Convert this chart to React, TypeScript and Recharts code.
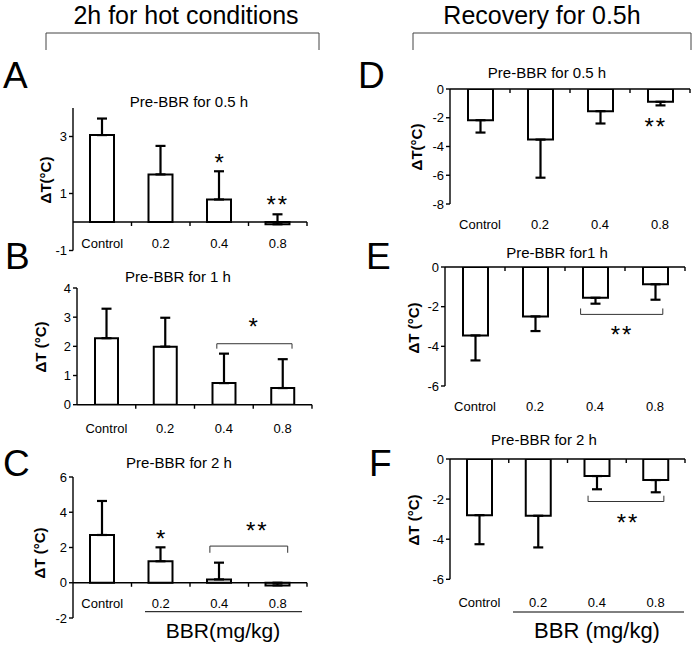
import React from "react";
import { BarChart, Bar, XAxis, YAxis, ErrorBar, ReferenceLine, ReferenceDot } from "recharts";

const FONT = "'Liberation Sans', Arial, sans-serif";

const categories = ["Control", "0.2", "0.4", "0.8"];
const positions = [0.5, 1.5, 2.5, 3.5];

// 2h for hot conditions
const hotHalfMean = [3.05, 1.67, 0.79, -0.08];
const hotHalfErr = [0.58, 1.0, 0.99, 0.35];
const hotOneMean = [2.28, 1.99, 0.74, 0.57];
const hotOneErr = [1.01, 0.99, 1.01, 0.99];
const hotTwoMean = [2.71, 1.22, 0.19, -0.15];
const hotTwoErr = [1.93, 0.79, 0.95, 0.15];

// recovery for 0.5h
const recHalfMean = [-2.17, -3.52, -1.54, -0.89];
const recHalfErr = [0.86, 2.65, 0.86, 0.25];
const recOneMean = [-3.45, -2.49, -1.55, -0.87];
const recOneErr = [1.26, 0.74, 0.3, 0.78];
const recTwoMean = [-2.8, -2.83, -0.85, -1.05];
const recTwoErr = [1.45, 1.58, 0.66, 0.61];

type Star = { x: number; y: number; t: string };
type Bracket = { x1: number; x2: number; y: number; leg: number };
type PanelCfg = {
  mean: number[];
  err: number[];
  up: boolean;
  domain: [number, number];
  ticks: number[];
  plot: [number, number, number, number]; // left, right, top, bottom
  barSize: number;
  labelDy: number;
  tickLen: number;
  stars: Star[];
  bracket?: Bracket;
};

const panels: PanelCfg[] = [
  {
    mean: hotHalfMean, err: hotHalfErr, up: true,
    domain: [-1, 4], ticks: [-1, 1, 3],
    plot: [73, 307, 107.7, 250.2], barSize: 24, labelDy: -20, tickLen: 0.14,
    stars: [{ x: 2.5, y: 2.27, t: "*" }, { x: 3.5, y: 0.8, t: "**" }],
  },
  {
    mean: hotOneMean, err: hotOneErr, up: true,
    domain: [0, 4], ticks: [0, 1, 2, 3, 4],
    plot: [77, 312, 288.3, 405], barSize: 23, labelDy: 11, tickLen: 0.14,
    stars: [{ x: 3.0, y: 2.84, t: "*" }],
    bracket: { x1: 2.38, x2: 3.66, y: 2.09, leg: 1.92 },
  },
  {
    mean: hotTwoMean, err: hotTwoErr, up: true,
    domain: [-2, 6], ticks: [-2, 0, 2, 4, 6],
    plot: [73, 307, 477.3, 618.3], barSize: 24, labelDy: -27, tickLen: 0.23,
    stars: [{ x: 1.5, y: 2.82, t: "*" }, { x: 3.15, y: 3.22, t: "**" }],
    bracket: { x1: 2.34, x2: 3.67, y: 2.08, leg: 1.7 },
  },
  {
    mean: recHalfMean, err: recHalfErr, up: false,
    domain: [-8, 0], ticks: [-8, -6, -4, -2, 0],
    plot: [450, 690, 89, 204], barSize: 25, labelDy: 8, tickLen: 0.28,
    stars: [{ x: 3.43, y: -2.24, t: "**" }],
  },
  {
    mean: recOneMean, err: recOneErr, up: false,
    domain: [-6, 0], ticks: [-6, -4, -2, 0],
    plot: [445, 685, 266.7, 385.7], barSize: 25, labelDy: 8, tickLen: 0.2,
    stars: [{ x: 2.95, y: -3.15, t: "**" }],
    bracket: { x1: 2.26, x2: 3.63, y: -2.39, leg: -2.09 },
  },
  {
    mean: recTwoMean, err: recTwoErr, up: false,
    domain: [-6, 0], ticks: [-6, -4, -2, 0],
    plot: [450, 685, 459, 579.3], barSize: 25, labelDy: 10, tickLen: 0.2,
    stars: [{ x: 3.03, y: -2.93, t: "**" }],
    bracket: { x1: 2.35, x2: 3.64, y: -2.12, leg: -1.83 },
  },
];

const starShape = (t: string) => (props: any) => (
  <text
    x={props.cx}
    y={props.cy + 13.5}
    textAnchor="middle"
    fontSize={24}
    fontFamily={FONT}
    letterSpacing={t.length > 1 ? 2 : 0}
    fill="#000"
  >
    {t}
  </text>
);

function Panel({ p }: { p: PanelCfg }) {
  const data = p.mean.map((v, i) => ({
    pos: positions[i],
    v,
    e: p.up ? [0, p.err[i]] : [p.err[i], 0],
  }));
  const W = 40, T = 10, R = 10, H = 30;
  const [x0, x1, y0, y1] = p.plot;
  const left = x0 - W;
  const top = y0 - T;
  const width = x1 - x0 + W + R;
  const height = y1 - y0 + T + H;
  const b = p.bracket;
  return (
    <div style={{ position: "absolute", left, top }}>
      <BarChart width={width} height={height} data={data} margin={{ top: T, right: R, left: 0, bottom: 0 }}>
        <XAxis
          dataKey="pos"
          type="number"
          domain={[0, 4]}
          ticks={positions}
          interval={0}
          tickFormatter={(v: number) => categories[positions.indexOf(v)]}
          axisLine={false}
          tickLine={false}
          height={H}
          allowDataOverflow
          tick={{ fontSize: 13, fill: "#000", fontFamily: FONT, dy: p.labelDy }}
        />
        <YAxis
          type="number"
          domain={p.domain}
          ticks={p.ticks}
          interval={0}
          width={W}
          tickSize={4}
          allowDataOverflow
          axisLine={{ stroke: "#000", strokeWidth: 1.4 }}
          tickLine={{ stroke: "#000", strokeWidth: 1.4 }}
          tick={{ fontSize: 13, fill: "#000", fontFamily: FONT }}
        />
        <ReferenceLine y={0} stroke="#000" strokeWidth={1.4} />
        {[1, 2, 3, 4].map((x) => (
          <ReferenceLine
            key={x}
            segment={[{ x, y: 0 }, { x, y: -p.tickLen }]}
            stroke="#000"
            strokeWidth={1.4}
            ifOverflow="visible"
          />
        ))}
        <Bar dataKey="v" fill="#fff" stroke="#000" strokeWidth={2} barSize={p.barSize} isAnimationActive={false}>
          <ErrorBar dataKey="e" width={5} strokeWidth={2.2} stroke="#000" direction="y" />
        </Bar>
        {b && (
          <ReferenceLine segment={[{ x: b.x1, y: b.y }, { x: b.x2, y: b.y }]} stroke="#333" strokeWidth={1} />
        )}
        {b && (
          <ReferenceLine segment={[{ x: b.x1, y: b.y }, { x: b.x1, y: b.leg }]} stroke="#333" strokeWidth={1} />
        )}
        {b && (
          <ReferenceLine segment={[{ x: b.x2, y: b.y }, { x: b.x2, y: b.leg }]} stroke="#333" strokeWidth={1} />
        )}
        {p.stars.map((s, i) => (
          <ReferenceDot key={i} x={s.x} y={s.y} r={0} shape={starShape(s.t)} />
        ))}
      </BarChart>
    </div>
  );
}

const letters = [
  { t: "A", x: 3, y: 88 },
  { t: "B", x: 5, y: 269 },
  { t: "C", x: 3, y: 476 },
  { t: "D", x: 358, y: 88 },
  { t: "E", x: 366, y: 269 },
  { t: "F", x: 369, y: 476 },
];

const titles = [
  { t: "Pre-BBR for 0.5 h", x: 189, y: 107 },
  { t: "Pre-BBR for 1 h", x: 178, y: 282 },
  { t: "Pre-BBR for 2 h", x: 179, y: 468 },
  { t: "Pre-BBR for 0.5 h", x: 547, y: 78 },
  { t: "Pre-BBR for1 h", x: 557, y: 258 },
  { t: "Pre-BBR for 2 h", x: 544, y: 445 },
];

const yLabels = [
  { t: "ΔT(°C)", x: 45, y: 180 },
  { t: "ΔT (°C)", x: 40, y: 347 },
  { t: "ΔT (°C)", x: 39, y: 553 },
  { t: "ΔT(°C)", x: 416, y: 147 },
  { t: "ΔT (°C)", x: 413, y: 328 },
  { t: "ΔT (°C)", x: 413, y: 520 },
];

export default function App() {
  return (
    <div style={{ position: "absolute", left: 0, top: 0, width: 695, height: 646, background: "#fff", fontFamily: FONT }}>
      {panels.map((p, i) => (
        <Panel key={i} p={p} />
      ))}
      <svg width={695} height={646} style={{ position: "absolute", left: 0, top: 0, pointerEvents: "none" }} fontFamily={FONT}>
        <text x={186} y={24} textAnchor="middle" fontSize={25} fill="#000">2h for hot conditions</text>
        <text x={542} y={24} textAnchor="middle" fontSize={25} fill="#000">Recovery for 0.5h</text>
        <path d="M46,50 L46,33 L319,33 L319,50" fill="none" stroke="#444" strokeWidth={1} />
        <path d="M413,50 L413,33 L691,33 L691,50" fill="none" stroke="#444" strokeWidth={1} />
        {letters.map((l) => (
          <text key={l.t} x={l.x} y={l.y} fontSize={37} fill="#000">{l.t}</text>
        ))}
        {titles.map((t, i) => (
          <text key={i} x={t.x} y={t.y} textAnchor="middle" fontSize={15} fill="#000">{t.t}</text>
        ))}
        {yLabels.map((l, i) => (
          <text
            key={i}
            x={l.x}
            y={l.y}
            transform={`rotate(-90 ${l.x} ${l.y})`}
            textAnchor="middle"
            dominantBaseline="central"
            fontSize={15}
            fontWeight="bold"
            fill="#000"
          >
            {l.t}
          </text>
        ))}
        <line x1={145} x2={302} y1={611.7} y2={611.7} stroke="#000" strokeWidth={1} />
        <text x={223} y={638} textAnchor="middle" fontSize={21} fill="#000">BBR(mg/kg)</text>
        <line x1={513} x2={684} y1={612} y2={612} stroke="#000" strokeWidth={1} />
        <text x={597} y={638} textAnchor="middle" fontSize={22} fill="#000">BBR (mg/kg)</text>
      </svg>
    </div>
  );
}
